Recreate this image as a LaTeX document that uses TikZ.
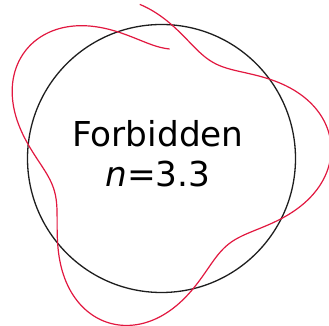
\documentclass[tikz,border=0pt]{standalone}
\usepackage{fontspec}
\setmainfont{DejaVu Sans}
\definecolor{wavered}{RGB}{226,24,64}
\definecolor{orbitblack}{RGB}{30,30,30}
\begin{document}
\begin{tikzpicture}[x=1pt,y=1pt,
  orbit/.style={circle, draw=orbitblack, line width=1.3pt, minimum size=268pt, inner sep=0pt},
  wave/.style={draw=wavered, line width=1.2pt, line join=round},
  label/.style={font=\fontsize{34.3}{40}\selectfont, text=black, anchor=base, inner sep=0pt}]
  \useasboundingbox[fill=white] (0,0) rectangle (329,326);
  \node[orbit] (orb) at (161.5,167.5) {};
  \draw[wave] plot[domain=0:372.6, samples=400, variable=\t]
    ({159.5+(141-31*cos(3.2142857*\t))*cos(84.7+\t)},
     {167.5+(141-31*cos(3.2142857*\t))*sin(84.7+\t)});
  \node[label] (word) at (158,179.3) {Forbidden};
  \node[label] (num) at (158,139.3) {\textit{n}=3.3};
\end{tikzpicture}
\end{document}
